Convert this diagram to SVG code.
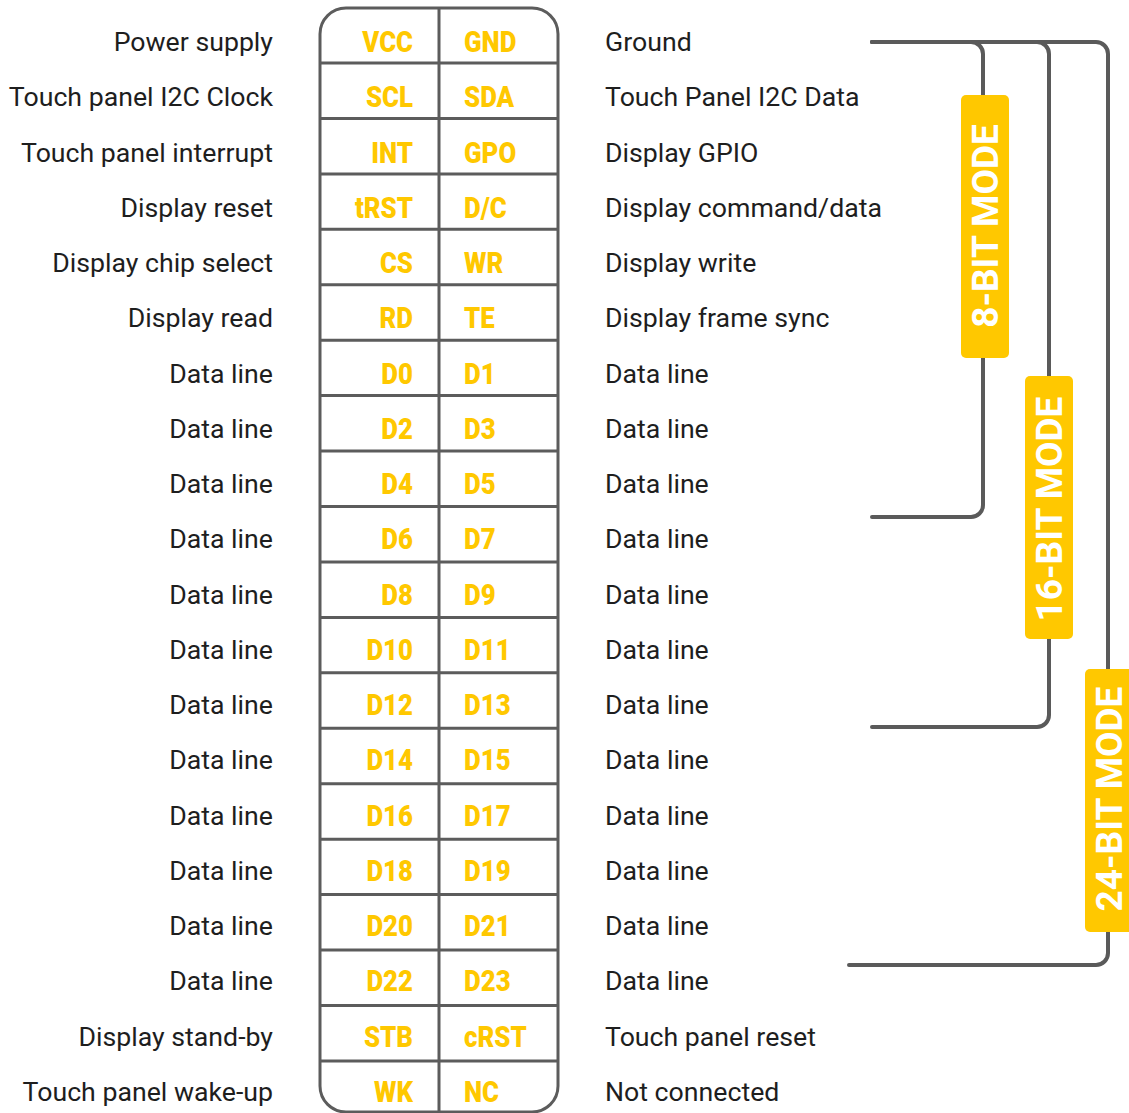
<svg xmlns="http://www.w3.org/2000/svg" width="1129" height="1113" viewBox="0 0 1129 1113">
<style>
.desc{font-family:Roboto,"Liberation Sans",sans-serif;font-size:26.7px;fill:#1e1e1e}
.l{text-anchor:end}
.pin{font-family:Roboto,"Liberation Sans",sans-serif;font-weight:900;font-size:30px;fill:#ffc800}
.frame{fill:none;stroke:#5c5c5c;stroke-width:3}
.br{fill:none;stroke:#5a5a5a;stroke-width:4;stroke-linecap:round}
.box{fill:#ffc800}
.mode{font-family:Roboto,"Liberation Sans",sans-serif;font-weight:bold;font-size:37px;fill:#fff;text-anchor:middle}
</style>
<g id="connector">
<rect class="frame" x="320" y="8" width="238" height="1104" rx="26"/>
<path class="frame" d="M439 8V1112M320 63H558M320 118.4H558M320 173.9H558M320 229.3H558M320 284.8H558M320 340.2H558M320 395.6H558M320 451.1H558M320 506.5H558M320 562H558M320 617.4H558M320 672.8H558M320 728.3H558M320 783.7H558M320 839.2H558M320 894.6H558M320 950H558M320 1005.5H558M320 1061H558"/>
</g>
<g id="connectors">
<path class="br" d="M872 42H1096A12 12 0 0 1 1108 54V953A12 12 0 0 1 1096 965H849"/>
<path class="br" d="M872 42H1037A12 12 0 0 1 1049 54V715A12 12 0 0 1 1037 727H872"/>
<path class="br" d="M872 42H971A12 12 0 0 1 983 54V505A12 12 0 0 1 971 517H872"/>
</g>
<g id="mode8"><rect class="box" x="961" y="95" width="48" height="263" rx="5"/><text class="mode" transform="translate(998 226) rotate(-90)">8-BIT MODE</text></g>
<g id="mode16"><rect class="box" x="1025" y="376" width="48" height="263" rx="5"/><text class="mode" transform="translate(1062 509) rotate(-90)">16-BIT MODE</text></g>
<g id="mode24"><rect class="box" x="1085" y="669" width="48" height="263" rx="5"/><text class="mode" transform="translate(1122 799) rotate(-90)">24-BIT MODE</text></g>
<g id="row1"><text class="desc l" x="273" y="51">Power supply</text><text class="pin l" transform="translate(413 52) scale(.86 1)">VCC</text><text class="pin" transform="translate(464 52) scale(.86 1)">GND</text><text class="desc" x="605" y="51">Ground</text></g>
<g id="row2"><text class="desc l" x="273" y="106.2">Touch panel I2C Clock</text><text class="pin l" transform="translate(413 107.2) scale(.86 1)">SCL</text><text class="pin" transform="translate(464 107.2) scale(.86 1)">SDA</text><text class="desc" x="605" y="106.2">Touch Panel I2C Data</text></g>
<g id="row3"><text class="desc l" x="273" y="161.5">Touch panel interrupt</text><text class="pin l" transform="translate(413 162.5) scale(.86 1)">INT</text><text class="pin" transform="translate(464 162.5) scale(.86 1)">GPO</text><text class="desc" x="605" y="161.5">Display GPIO</text></g>
<g id="row4"><text class="desc l" x="273" y="216.7">Display reset</text><text class="pin l" transform="translate(413 217.7) scale(.86 1)">tRST</text><text class="pin" transform="translate(464 217.7) scale(.86 1)">D/C</text><text class="desc" x="605" y="216.7">Display command/data</text></g>
<g id="row5"><text class="desc l" x="273" y="272">Display chip select</text><text class="pin l" transform="translate(413 273) scale(.86 1)">CS</text><text class="pin" transform="translate(464 273) scale(.86 1)">WR</text><text class="desc" x="605" y="272">Display write</text></g>
<g id="row6"><text class="desc l" x="273" y="327.2">Display read</text><text class="pin l" transform="translate(413 328.2) scale(.86 1)">RD</text><text class="pin" transform="translate(464 328.2) scale(.86 1)">TE</text><text class="desc" x="605" y="327.2">Display frame sync</text></g>
<g id="row7"><text class="desc l" x="273" y="382.5">Data line</text><text class="pin l" transform="translate(413 383.5) scale(.86 1)">D0</text><text class="pin" transform="translate(464 383.5) scale(.86 1)">D1</text><text class="desc" x="605" y="382.5">Data line</text></g>
<g id="row8"><text class="desc l" x="273" y="437.7">Data line</text><text class="pin l" transform="translate(413 438.7) scale(.86 1)">D2</text><text class="pin" transform="translate(464 438.7) scale(.86 1)">D3</text><text class="desc" x="605" y="437.7">Data line</text></g>
<g id="row9"><text class="desc l" x="273" y="493">Data line</text><text class="pin l" transform="translate(413 494) scale(.86 1)">D4</text><text class="pin" transform="translate(464 494) scale(.86 1)">D5</text><text class="desc" x="605" y="493">Data line</text></g>
<g id="row10"><text class="desc l" x="273" y="548.2">Data line</text><text class="pin l" transform="translate(413 549.2) scale(.86 1)">D6</text><text class="pin" transform="translate(464 549.2) scale(.86 1)">D7</text><text class="desc" x="605" y="548.2">Data line</text></g>
<g id="row11"><text class="desc l" x="273" y="603.5">Data line</text><text class="pin l" transform="translate(413 604.5) scale(.86 1)">D8</text><text class="pin" transform="translate(464 604.5) scale(.86 1)">D9</text><text class="desc" x="605" y="603.5">Data line</text></g>
<g id="row12"><text class="desc l" x="273" y="658.7">Data line</text><text class="pin l" transform="translate(413 659.7) scale(.86 1)">D10</text><text class="pin" transform="translate(464 659.7) scale(.86 1)">D11</text><text class="desc" x="605" y="658.7">Data line</text></g>
<g id="row13"><text class="desc l" x="273" y="714">Data line</text><text class="pin l" transform="translate(413 715) scale(.86 1)">D12</text><text class="pin" transform="translate(464 715) scale(.86 1)">D13</text><text class="desc" x="605" y="714">Data line</text></g>
<g id="row14"><text class="desc l" x="273" y="769.2">Data line</text><text class="pin l" transform="translate(413 770.2) scale(.86 1)">D14</text><text class="pin" transform="translate(464 770.2) scale(.86 1)">D15</text><text class="desc" x="605" y="769.2">Data line</text></g>
<g id="row15"><text class="desc l" x="273" y="824.5">Data line</text><text class="pin l" transform="translate(413 825.5) scale(.86 1)">D16</text><text class="pin" transform="translate(464 825.5) scale(.86 1)">D17</text><text class="desc" x="605" y="824.5">Data line</text></g>
<g id="row16"><text class="desc l" x="273" y="879.7">Data line</text><text class="pin l" transform="translate(413 880.7) scale(.86 1)">D18</text><text class="pin" transform="translate(464 880.7) scale(.86 1)">D19</text><text class="desc" x="605" y="879.7">Data line</text></g>
<g id="row17"><text class="desc l" x="273" y="935">Data line</text><text class="pin l" transform="translate(413 936) scale(.86 1)">D20</text><text class="pin" transform="translate(464 936) scale(.86 1)">D21</text><text class="desc" x="605" y="935">Data line</text></g>
<g id="row18"><text class="desc l" x="273" y="990.2">Data line</text><text class="pin l" transform="translate(413 991.2) scale(.86 1)">D22</text><text class="pin" transform="translate(464 991.2) scale(.86 1)">D23</text><text class="desc" x="605" y="990.2">Data line</text></g>
<g id="row19"><text class="desc l" x="273" y="1045.5">Display stand-by</text><text class="pin l" transform="translate(413 1046.5) scale(.86 1)">STB</text><text class="pin" transform="translate(464 1046.5) scale(.86 1)">cRST</text><text class="desc" x="605" y="1045.5">Touch panel reset</text></g>
<g id="row20"><text class="desc l" x="273" y="1100.7">Touch panel wake-up</text><text class="pin l" transform="translate(413 1101.7) scale(.86 1)">WK</text><text class="pin" transform="translate(464 1101.7) scale(.86 1)">NC</text><text class="desc" x="605" y="1100.7">Not connected</text></g>
</svg>
